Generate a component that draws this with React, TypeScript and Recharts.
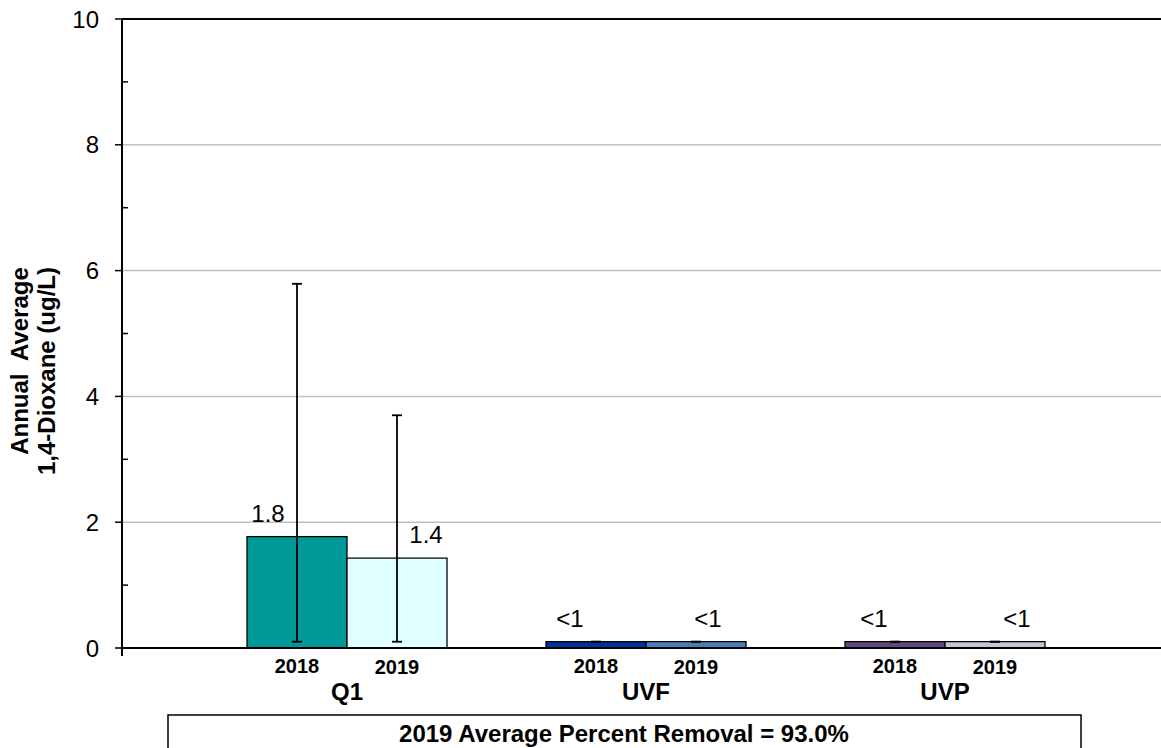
import React from "react";
import {
  BarChart,
  Bar,
  XAxis,
  YAxis,
  CartesianGrid,
  ReferenceLine,
  ErrorBar,
  Cell,
  LabelList,
} from "recharts";

const sites = ["Q1", "UVF", "UVP"];
const years = ["2018", "2019"];
const avg2018 = [1.77, 0.1, 0.1];
const avg2019 = [1.43, 0.1, 0.1];
const low2018 = [0.1, 0.1, 0.1];
const high2018 = [5.79, 0.1, 0.1];
const low2019 = [0.1, 0.1, 0.1];
const high2019 = [3.7, 0.1, 0.1];
const labels2018 = ["1.8", "<1", "<1"];
const labels2019 = ["1.4", "<1", "<1"];
const yTicks = [0, 1, 2, 3, 4, 5, 6, 7, 8, 9, 10];
const removalText = "2019 Average Percent Removal = 93.0%";

const colors2018 = ["#009999", "#003399", "#5F4A7E"];
const colors2019 = ["#E0FFFF", "#4A7EBB", "#CCC1DA"];
// hand-placed label offsets from bar center (as in the original sheet)
const dx2018 = [-29, -26, -21];
const dx2019 = [29, 12, 22];

const FONT = "'Liberation Sans', Arial, sans-serif";

const data = sites.map((site, i) => ({
  site,
  v2018: avg2018[i],
  v2019: avg2019[i],
  e2018: [avg2018[i] - low2018[i], high2018[i] - avg2018[i]],
  e2019: [avg2019[i] - low2019[i], high2019[i] - avg2019[i]],
  l2018: labels2018[i],
  l2019: labels2019[i],
}));

const YTick = (props: any) => {
  const { x, y, payload } = props;
  const v = payload.value;
  if (v % 2 === 1) {
    return <line x1={x} x2={x + 6} y1={y} y2={y} stroke="#000" strokeWidth={1.5} />;
  }
  return (
    <g>
      <line x1={x - 7} x2={x} y1={y} y2={y} stroke="#000" strokeWidth={1.5} />
      {v === 0 && <line x1={x} x2={x} y1={y} y2={y + 8} stroke="#000" strokeWidth={2} />}
      <text x={x - 23} y={y} dy="0.36em" textAnchor="end" fontSize={24} fontFamily={FONT} fill="#000">
        {v}
      </text>
    </g>
  );
};

const XTick = (props: any) => {
  const { x, y, payload } = props;
  return (
    <g fontFamily={FONT} fontWeight="bold" fill="#000">
      <text x={x - 50} y={y + 25} textAnchor="middle" fontSize={20}>
        {years[0]}
      </text>
      <text x={x + 50} y={y + 26} textAnchor="middle" fontSize={20}>
        {years[1]}
      </text>
      <text x={x} y={y + 52} textAnchor="middle" fontSize={24}>
        {payload.value}
      </text>
    </g>
  );
};

const makeLabel = (offsets: number[]) => (props: any) => {
  const { x, y, width, value, index } = props;
  return (
    <text
      x={x + width / 2 + offsets[index]}
      y={y - 15}
      textAnchor="middle"
      fontSize={24}
      fontFamily={FONT}
      fill="#000"
    >
      {value}
    </text>
  );
};

export default function App() {
  return (
    <div style={{ position: "absolute", left: 0, top: 0, width: 1161, height: 748, background: "#fff" }}>
      <BarChart
        width={1161}
        height={748}
        data={data}
        margin={{ top: 19, right: 0, left: 62, bottom: 0 }}
        barCategoryGap={49.5}
        barGap={0}
      >
        <CartesianGrid horizontal vertical={false} horizontalValues={[2, 4, 6, 8]} stroke="#C0C0C0" strokeWidth={1.5} />
        <XAxis
          dataKey="site"
          height={100}
          padding={{ left: 75.5, right: 66.5 }}
          tickLine={false}
          tickSize={0}
          tickMargin={0}
          axisLine={{ stroke: "#000", strokeWidth: 2 }}
          tick={<XTick />}
          interval={0}
        />
        <YAxis
          width={60}
          domain={[0, 10]}
          ticks={yTicks}
          interval={0}
          tickLine={false}
          tickSize={0}
          tickMargin={0}
          axisLine={{ stroke: "#000", strokeWidth: 2 }}
          tick={<YTick />}
        />
        <ReferenceLine y={10} stroke="#000" strokeWidth={2} ifOverflow="visible" />
        <Bar dataKey="v2018" stroke="#000" strokeWidth={1.3} isAnimationActive={false}>
          {data.map((d, i) => (
            <Cell key={d.site} fill={colors2018[i]} />
          ))}
          <ErrorBar dataKey="e2018" direction="y" width={5} stroke="#000" strokeWidth={1.8} />
          <LabelList dataKey="l2018" content={makeLabel(dx2018)} />
        </Bar>
        <Bar dataKey="v2019" stroke="#000" strokeWidth={1.3} isAnimationActive={false}>
          {data.map((d, i) => (
            <Cell key={d.site} fill={colors2019[i]} />
          ))}
          <ErrorBar dataKey="e2019" direction="y" width={5} stroke="#000" strokeWidth={1.8} />
          <LabelList dataKey="l2019" content={makeLabel(dx2019)} />
        </Bar>
      </BarChart>
      <svg
        width={1161}
        height={748}
        style={{ position: "absolute", left: 0, top: 0, pointerEvents: "none" }}
      >
        <g fontFamily={FONT} fontWeight="bold" fontSize={24} fill="#000">
          <text x={19} y={361} transform="rotate(-90 19 361)" textAnchor="middle" dy="0.36em" xmlSpace="preserve">
            Annual  Average
          </text>
          <text x={46} y={371} transform="rotate(-90 46 371)" textAnchor="middle" dy="0.36em">
            1,4-Dioxane (ug/L)
          </text>
        </g>
        <rect x={168} y={715} width={913} height={40} fill="#fff" stroke="#000" strokeWidth={1.5} />
        <text
          x={624}
          y={733}
          dy="0.36em"
          textAnchor="middle"
          fontFamily={FONT}
          fontWeight="bold"
          fontSize={24}
          fill="#000"
        >
          {removalText}
        </text>
      </svg>
    </div>
  );
}
